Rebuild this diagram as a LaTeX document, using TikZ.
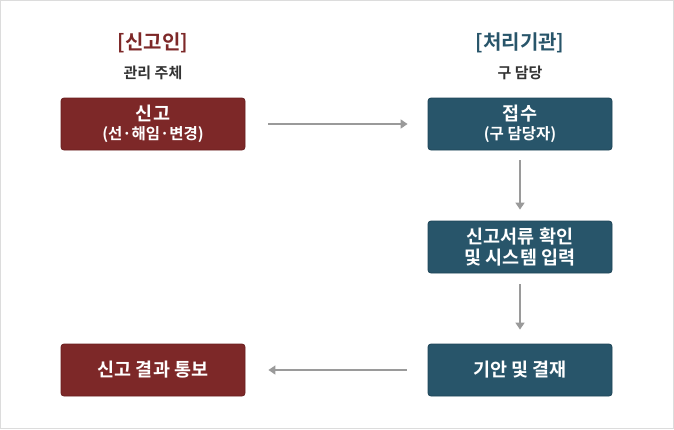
\documentclass[tikz,border=0pt]{standalone}
\usepackage{fontspec}
\setmainfont{Noto Sans CJK KR}[BoldFont={Noto Sans CJK KR Bold}]
\usetikzlibrary{arrows.meta}
\definecolor{redbox}{HTML}{7D2828}
\definecolor{redline}{HTML}{6A1F1F}
\definecolor{tealbox}{HTML}{28556A}
\definecolor{tealline}{HTML}{1E4457}
\definecolor{arrowgray}{HTML}{9A9A9A}
\definecolor{subgray}{HTML}{333333}
\definecolor{framegray}{HTML}{DCDCDC}
\tikzset{
  boxbase/.style={rounded corners=3pt, minimum width=184pt, minimum height=52pt, inner sep=0pt, text=white, align=center, font=\bfseries\fontsize{18.5}{21.5}\selectfont, line width=0.8pt},
  redbox/.style={boxbase, fill=redbox, draw=redline},
  tealbox/.style={boxbase, fill=tealbox, draw=tealline},
  flow/.style={draw=arrowgray, line width=1.5pt, -{Triangle[width=9pt,length=7pt]}},
  header/.style={font=\bfseries\fontsize{20}{24}\selectfont},
  subhead/.style={font=\bfseries\fontsize{15}{18}\selectfont, text=subgray}
}
\newcommand{\sublbl}[1]{{\fontsize{15.5}{18}\selectfont #1}}
\begin{document}
\begin{tikzpicture}[x=1pt,y=-1pt]
\useasboundingbox (0,0) rectangle (674,429);
\draw[framegray, line width=1pt] (0.5,0.5) rectangle (673.5,428.5);
\node[header, text=redbox] (h1) at (153,43) {[신고인]};
\node[subhead] (s1) at (153,73) {관리 주체};
\node[header, text=tealbox] (h2) at (520,43) {[처리기관]};
\node[subhead] (s2) at (520,73) {구 담당};
\node[redbox] (a) at (153,124) {신고\\[-3pt]\sublbl{(선·해임·변경)}};
\node[tealbox] (b) at (520,124) {접수\\[-3pt]\sublbl{(구 담당자)}};
\node[tealbox] (c) at (520,247) {신고서류 확인\\ 및 시스템 입력};
\node[tealbox] (d) at (520,370) {기안 및 결재};
\node[redbox] (e) at (153,370) {신고 결과 통보};
\draw[flow] ([xshift=23pt]a.east) -- ([xshift=-20pt]b.west);
\draw[flow] ([yshift=-10pt]b.south) -- ([yshift=11pt]c.north);
\draw[flow] ([yshift=-11pt]c.south) -- ([yshift=14pt]d.north);
\draw[flow] ([xshift=-21pt]d.west) -- ([xshift=23pt]e.east);
\end{tikzpicture}
\end{document}
